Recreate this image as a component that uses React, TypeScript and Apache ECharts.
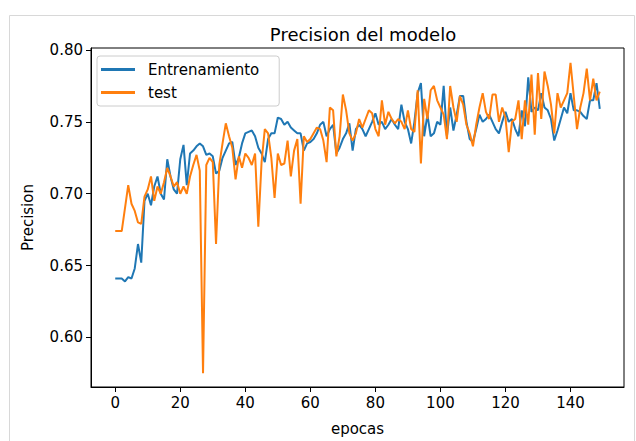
import React, { useEffect, useRef } from "react";
import * as echarts from "echarts";

const title = "Precision del modelo";
const xName = "epocas";
const yName = "Precision";
const seriesNames = ["Entrenamiento", "test"];
const xTicks = [0, 20, 40, 60, 80, 100, 120, 140];
const yTicks = [0.6, 0.65, 0.7, 0.75, 0.8];

const train = [
  0.641, 0.641, 0.641, 0.639, 0.642, 0.641, 0.648, 0.665, 0.652, 0.695,
  0.700, 0.692, 0.705, 0.712, 0.700, 0.696, 0.724, 0.712, 0.703, 0.700,
  0.724, 0.734, 0.706, 0.728, 0.730, 0.733, 0.735, 0.733, 0.727, 0.728,
  0.726, 0.714, 0.716, 0.725, 0.730, 0.735, 0.736, 0.720, 0.725, 0.735,
  0.742, 0.743, 0.744, 0.740, 0.732, 0.728, 0.722, 0.738, 0.742, 0.742,
  0.753, 0.752, 0.748, 0.750, 0.746, 0.744, 0.742, 0.742, 0.730, 0.735,
  0.736, 0.738, 0.742, 0.748, 0.750, 0.740, 0.745, 0.748, 0.728, 0.732,
  0.738, 0.742, 0.749, 0.730, 0.745, 0.748, 0.745, 0.740, 0.745, 0.750,
  0.756, 0.748, 0.750, 0.745, 0.748, 0.752, 0.748, 0.745, 0.762, 0.750,
  0.745, 0.735, 0.750, 0.770, 0.777, 0.740, 0.755, 0.740, 0.742, 0.750,
  0.748, 0.775, 0.740, 0.760, 0.744, 0.755, 0.768, 0.768, 0.750, 0.738,
  0.736, 0.745, 0.755, 0.750, 0.752, 0.755, 0.750, 0.745, 0.742, 0.750,
  0.757, 0.750, 0.752, 0.745, 0.740, 0.758, 0.747, 0.781, 0.757, 0.760,
  0.758, 0.770, 0.760, 0.758, 0.752, 0.737, 0.744, 0.752, 0.760, 0.756,
  0.770, 0.758, 0.758, 0.757, 0.754, 0.752, 0.765, 0.765, 0.777, 0.759,
];

const test = [
  0.674, 0.674, 0.674, 0.690, 0.706, 0.693, 0.688, 0.680, 0.679, 0.698,
  0.703, 0.712, 0.695, 0.705, 0.700, 0.708, 0.718, 0.712, 0.705, 0.708,
  0.700, 0.705, 0.700, 0.712, 0.720, 0.727, 0.716, 0.575, 0.720, 0.725,
  0.722, 0.665, 0.720, 0.735, 0.749, 0.740, 0.732, 0.710, 0.726, 0.718,
  0.728, 0.725, 0.720, 0.728, 0.677, 0.722, 0.745, 0.742, 0.725, 0.697,
  0.728, 0.720, 0.721, 0.737, 0.712, 0.730, 0.738, 0.693, 0.740, 0.736,
  0.738, 0.742, 0.746, 0.745, 0.737, 0.722, 0.760, 0.758, 0.726, 0.740,
  0.769, 0.758, 0.742, 0.737, 0.742, 0.752, 0.746, 0.752, 0.758, 0.756,
  0.745, 0.740, 0.765, 0.748, 0.757, 0.752, 0.749, 0.752, 0.750, 0.745,
  0.758, 0.745, 0.743, 0.772, 0.721, 0.766, 0.752, 0.772, 0.775, 0.765,
  0.760, 0.755, 0.738, 0.775, 0.760, 0.750, 0.768, 0.762, 0.748, 0.742,
  0.733, 0.748, 0.760, 0.770, 0.757, 0.752, 0.769, 0.769, 0.750, 0.760,
  0.753, 0.729, 0.750, 0.752, 0.765, 0.738, 0.765, 0.748, 0.783, 0.741,
  0.784, 0.752, 0.785, 0.775, 0.762, 0.742, 0.770, 0.760, 0.765, 0.770,
  0.791, 0.768, 0.745, 0.760, 0.770, 0.787, 0.765, 0.780, 0.765, 0.771,
];

const FONT = "DejaVu Sans";

export default function App() {
  const ref = useRef<HTMLDivElement>(null);
  useEffect(() => {
    if (!ref.current) return;
    const chart = echarts.init(ref.current, null, { renderer: "svg" });
    const toPairs = (arr: number[]) => arr.map((v, i) => [i, v]);
    chart.setOption({
      animation: false,
      backgroundColor: "#fff",
      textStyle: { fontFamily: FONT },
      title: {
        text: title,
        left: 358,
        top: 20,
        textAlign: "center",
        textStyle: { fontFamily: FONT, fontSize: 18, fontWeight: "normal", color: "#000" },
      },
      legend: {
        orient: "vertical",
        left: 97,
        top: 56,
        padding: [6, 20, 6, 4],
        itemGap: 8,
        itemWidth: 34,
        itemHeight: 3,
        icon: "rect",
        borderColor: "#ccc",
        borderWidth: 1,
        borderRadius: 3,
        textStyle: { fontFamily: FONT, fontSize: 15, color: "#000", padding: [0, 0, 0, 8] },
        data: seriesNames,
      },
      graphic: [
        {
          type: "rect",
          left: 7,
          top: 13,
          shape: { width: 625, height: 440 },
          style: { fill: "none", stroke: "#d8d8d8", lineWidth: 1 },
          silent: true,
        },
      ],
      grid: {
        left: 91,
        right: 12,
        top: 48,
        bottom: 51,
        show: true,
        borderColor: "#000",
        borderWidth: 1,
      },
      xAxis: {
        type: "value",
        min: -7.45,
        max: 156.45,
        name: xName,
        nameLocation: "middle",
        nameGap: 34,
        nameTextStyle: { fontFamily: FONT, fontSize: 15, color: "#000" },
        splitLine: { show: false },
        axisLine: { show: true, onZero: false, lineStyle: { color: "#000", width: 1 } },
        axisTick: { show: true, inside: false, length: 5, lineStyle: { color: "#000" }, customValues: xTicks },
        axisLabel: { fontFamily: FONT, fontSize: 15, color: "#000", margin: 8, customValues: xTicks },
      },
      yAxis: {
        type: "value",
        min: 0.5655,
        max: 0.8014,
        name: yName,
        nameLocation: "middle",
        nameGap: 56,
        nameTextStyle: { fontFamily: FONT, fontSize: 15, color: "#000" },
        splitLine: { show: false },
        axisLine: { show: true, onZero: false, lineStyle: { color: "#000", width: 1 } },
        axisTick: { show: true, inside: false, length: 5, lineStyle: { color: "#000" }, customValues: yTicks },
        axisLabel: {
          fontFamily: FONT,
          fontSize: 15,
          color: "#000",
          margin: 8,
          customValues: yTicks,
          formatter: (v: number) => v.toFixed(2),
        },
      },
      series: [
        {
          name: seriesNames[0],
          type: "line",
          data: toPairs(train),
          showSymbol: false,
          symbol: "none",
          lineStyle: { color: "#1f77b4", width: 2 },
          itemStyle: { color: "#1f77b4" },
        },
        {
          name: seriesNames[1],
          type: "line",
          data: toPairs(test),
          showSymbol: false,
          symbol: "none",
          lineStyle: { color: "#ff7f0e", width: 2 },
          itemStyle: { color: "#ff7f0e" },
        },
      ],
    });
    return () => chart.dispose();
  }, []);
  return (
    <div
      ref={ref}
      style={{ position: "fixed", left: 0, top: 0, width: 636, height: 441 }}
    />
  );
}
